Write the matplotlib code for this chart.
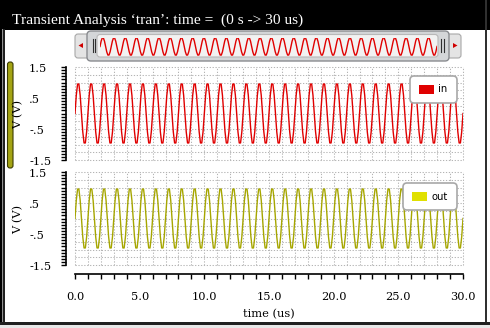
import numpy as np
import matplotlib
matplotlib.use('Agg')
import matplotlib.pyplot as plt
from matplotlib.patches import Rectangle, FancyBboxPatch, Polygon
from matplotlib.transforms import blended_transform_factory

W, H = 490, 328
PX = 72 / 100  # points per pixel

# ---------------- data ----------------
title = "Transient Analysis \u2018tran\u2019: time =  (0 s -> 30 us)"
time_us = np.linspace(0, 30, 301)
in_v = [
    0.0, 0.59, 0.95, 0.95, 0.59, 0.0, -0.59, -0.95, -0.95, -0.59,
    0.0, 0.59, 0.95, 0.95, 0.59, 0.0, -0.59, -0.95, -0.95, -0.59,
    0.0, 0.59, 0.95, 0.95, 0.59, 0.0, -0.59, -0.95, -0.95, -0.59,
    0.0, 0.59, 0.95, 0.95, 0.59, 0.0, -0.59, -0.95, -0.95, -0.59,
    0.0, 0.59, 0.95, 0.95, 0.59, 0.0, -0.59, -0.95, -0.95, -0.59,
    0.0, 0.59, 0.95, 0.95, 0.59, 0.0, -0.59, -0.95, -0.95, -0.59,
    0.0, 0.59, 0.95, 0.95, 0.59, 0.0, -0.59, -0.95, -0.95, -0.59,
    0.0, 0.59, 0.95, 0.95, 0.59, 0.0, -0.59, -0.95, -0.95, -0.59,
    0.0, 0.59, 0.95, 0.95, 0.59, 0.0, -0.59, -0.95, -0.95, -0.59,
    0.0, 0.59, 0.95, 0.95, 0.59, 0.0, -0.59, -0.95, -0.95, -0.59,
    0.0, 0.59, 0.95, 0.95, 0.59, 0.0, -0.59, -0.95, -0.95, -0.59,
    0.0, 0.59, 0.95, 0.95, 0.59, 0.0, -0.59, -0.95, -0.95, -0.59,
    0.0, 0.59, 0.95, 0.95, 0.59, 0.0, -0.59, -0.95, -0.95, -0.59,
    0.0, 0.59, 0.95, 0.95, 0.59, 0.0, -0.59, -0.95, -0.95, -0.59,
    0.0, 0.59, 0.95, 0.95, 0.59, 0.0, -0.59, -0.95, -0.95, -0.59,
    0.0, 0.59, 0.95, 0.95, 0.59, 0.0, -0.59, -0.95, -0.95, -0.59,
    0.0, 0.59, 0.95, 0.95, 0.59, 0.0, -0.59, -0.95, -0.95, -0.59,
    0.0, 0.59, 0.95, 0.95, 0.59, 0.0, -0.59, -0.95, -0.95, -0.59,
    0.0, 0.59, 0.95, 0.95, 0.59, 0.0, -0.59, -0.95, -0.95, -0.59,
    0.0, 0.59, 0.95, 0.95, 0.59, 0.0, -0.59, -0.95, -0.95, -0.59,
    0.0, 0.59, 0.95, 0.95, 0.59, 0.0, -0.59, -0.95, -0.95, -0.59,
    0.0, 0.59, 0.95, 0.95, 0.59, 0.0, -0.59, -0.95, -0.95, -0.59,
    0.0, 0.59, 0.95, 0.95, 0.59, 0.0, -0.59, -0.95, -0.95, -0.59,
    0.0, 0.59, 0.95, 0.95, 0.59, 0.0, -0.59, -0.95, -0.95, -0.59,
    0.0, 0.59, 0.95, 0.95, 0.59, 0.0, -0.59, -0.95, -0.95, -0.59,
    0.0, 0.59, 0.95, 0.95, 0.59, 0.0, -0.59, -0.95, -0.95, -0.59,
    0.0, 0.59, 0.95, 0.95, 0.59, 0.0, -0.59, -0.95, -0.95, -0.59,
    0.0, 0.59, 0.95, 0.95, 0.59, 0.0, -0.59, -0.95, -0.95, -0.59,
    0.0, 0.59, 0.95, 0.95, 0.59, 0.0, -0.59, -0.95, -0.95, -0.59,
    0.0, 0.59, 0.95, 0.95, 0.59, 0.0, -0.59, -0.95, -0.95, -0.59,
    0.0,
]
out_v = [
    0.0, 0.59, 0.95, 0.95, 0.59, 0.0, -0.59, -0.95, -0.95, -0.59,
    0.0, 0.59, 0.95, 0.95, 0.59, 0.0, -0.59, -0.95, -0.95, -0.59,
    0.0, 0.59, 0.95, 0.95, 0.59, 0.0, -0.59, -0.95, -0.95, -0.59,
    0.0, 0.59, 0.95, 0.95, 0.59, 0.0, -0.59, -0.95, -0.95, -0.59,
    0.0, 0.59, 0.95, 0.95, 0.59, 0.0, -0.59, -0.95, -0.95, -0.59,
    0.0, 0.59, 0.95, 0.95, 0.59, 0.0, -0.59, -0.95, -0.95, -0.59,
    0.0, 0.59, 0.95, 0.95, 0.59, 0.0, -0.59, -0.95, -0.95, -0.59,
    0.0, 0.59, 0.95, 0.95, 0.59, 0.0, -0.59, -0.95, -0.95, -0.59,
    0.0, 0.59, 0.95, 0.95, 0.59, 0.0, -0.59, -0.95, -0.95, -0.59,
    0.0, 0.59, 0.95, 0.95, 0.59, 0.0, -0.59, -0.95, -0.95, -0.59,
    0.0, 0.59, 0.95, 0.95, 0.59, 0.0, -0.59, -0.95, -0.95, -0.59,
    0.0, 0.59, 0.95, 0.95, 0.59, 0.0, -0.59, -0.95, -0.95, -0.59,
    0.0, 0.59, 0.95, 0.95, 0.59, 0.0, -0.59, -0.95, -0.95, -0.59,
    0.0, 0.59, 0.95, 0.95, 0.59, 0.0, -0.59, -0.95, -0.95, -0.59,
    0.0, 0.59, 0.95, 0.95, 0.59, 0.0, -0.59, -0.95, -0.95, -0.59,
    0.0, 0.59, 0.95, 0.95, 0.59, 0.0, -0.59, -0.95, -0.95, -0.59,
    0.0, 0.59, 0.95, 0.95, 0.59, 0.0, -0.59, -0.95, -0.95, -0.59,
    0.0, 0.59, 0.95, 0.95, 0.59, 0.0, -0.59, -0.95, -0.95, -0.59,
    0.0, 0.59, 0.95, 0.95, 0.59, 0.0, -0.59, -0.95, -0.95, -0.59,
    0.0, 0.59, 0.95, 0.95, 0.59, 0.0, -0.59, -0.95, -0.95, -0.59,
    0.0, 0.59, 0.95, 0.95, 0.59, 0.0, -0.59, -0.95, -0.95, -0.59,
    0.0, 0.59, 0.95, 0.95, 0.59, 0.0, -0.59, -0.95, -0.95, -0.59,
    0.0, 0.59, 0.95, 0.95, 0.59, 0.0, -0.59, -0.95, -0.95, -0.59,
    0.0, 0.59, 0.95, 0.95, 0.59, 0.0, -0.59, -0.95, -0.95, -0.59,
    0.0, 0.59, 0.95, 0.95, 0.59, 0.0, -0.59, -0.95, -0.95, -0.59,
    0.0, 0.59, 0.95, 0.95, 0.59, 0.0, -0.59, -0.95, -0.95, -0.59,
    0.0, 0.59, 0.95, 0.95, 0.59, 0.0, -0.59, -0.95, -0.95, -0.59,
    0.0, 0.59, 0.95, 0.95, 0.59, 0.0, -0.59, -0.95, -0.95, -0.59,
    0.0, 0.59, 0.95, 0.95, 0.59, 0.0, -0.59, -0.95, -0.95, -0.59,
    0.0, 0.59, 0.95, 0.95, 0.59, 0.0, -0.59, -0.95, -0.95, -0.59,
    0.0,
]
series_names = ["in", "out"]
line_colors = ["#e00000", "#a6a600"]
patch_colors = ["#e00000", "#e0e000"]
y_ticks = [1.5, 0.5, -0.5, -1.5]
y_tick_labels = ["1.5", ".5", "-.5", "-1.5"]
x_ticks = [0, 5, 10, 15, 20, 25, 30]
x_tick_labels = ["0.0", "5.0", "10.0", "15.0", "20.0", "25.0", "30.0"]
x_label = "time (us)"
y_label = "V (V)"

SERIF = "DejaVu Serif"
TSERIF = "Liberation Serif"
GRID = "#b4b4b4"
FS = 8.2

fig = plt.figure(figsize=(W / 100, H / 100), dpi=100)
fig.patch.set_facecolor("white")


def rect(x0, y0, x1, y1):
    return [x0 / W, 1 - y1 / H, (x1 - x0) / W, (y1 - y0) / H]


# background / chrome layer
bg = fig.add_axes([0, 0, 1, 1], zorder=0)
bg.set_xlim(0, W)
bg.set_ylim(H, 0)
bg.axis("off")

# title bar
bg.add_patch(Rectangle((0, 0), W, 29.5, fc="black", ec="none"))
# window borders
bg.add_patch(Rectangle((0, 0), 2.2, H, fc="black", ec="none"))
bg.add_patch(Rectangle((2.2, 29), 1.2, H, fc="#909090", ec="none"))
bg.add_patch(Rectangle((3.4, 29), 1.4, H, fc="#202020", ec="none"))
bg.add_patch(Rectangle((484.5, 0), 2.0, H, fc="#303030", ec="none"))
bg.add_patch(Rectangle((0, 321.5), W, 3.5, fc="#202020", ec="none"))
bg.add_patch(Rectangle((0, 325), W, 3, fc="#e8e8e8", ec="none"))

t = bg.text(12, 24.3, title, color="white", fontfamily=TSERIF, fontsize=10,
            ha="left", va="baseline")
fig.canvas.draw()
bb = t.get_window_extent()
t.set_fontsize(10 * 290 / bb.width)

# scrollbar
bg.add_patch(FancyBboxPatch((75, 34), 386, 24, boxstyle="round,pad=0,rounding_size=3",
                            fc="#e4e4e4", ec="#a8a8a8", lw=0.8))
bg.add_patch(Polygon([[78.5, 45.5], [83, 43], [83, 48]], closed=True, fc="#d00000", ec="none"))
bg.add_patch(Polygon([[457.5, 45.5], [453, 43], [453, 48]], closed=True, fc="#d00000", ec="none"))
bg.add_patch(FancyBboxPatch((87, 31), 362, 30, boxstyle="round,pad=0,rounding_size=4",
                            fc="#d4d6d8", ec="#8a8c90", lw=1.0))
bg.add_patch(FancyBboxPatch((97, 34.5), 341, 22.5, boxstyle="round,pad=0,rounding_size=3",
                            fc="#f2f2f2", ec="#b8b8b8", lw=0.8))
for gx in (92.5, 95, 441, 443.5):
    bg.plot([gx, gx], [39, 52], color="#303030", lw=0.8)

# olive selection bar
bg.add_patch(FancyBboxPatch((7.5, 62), 5.5, 106, boxstyle="round,pad=0,rounding_size=2.5",
                            fc="#a4a414", ec="#3c3c00", lw=0.8))

# scrollbar thumbnail of the signal
axs = fig.add_axes(rect(100, 37.5, 437, 55.5), zorder=1)
axs.set_xlim(0, 30)
axs.set_ylim(-1.0, 1.0)
axs.axis("off")
axs.plot(time_us, in_v, color="#e00000", lw=1.0)

panel_boxes = [(75, 67, 463, 160), (75, 172, 463, 265)]
series_vals = [in_v, out_v]
for i in range(2):
    x0, y0, x1, y1 = panel_boxes[i]
    ax = fig.add_axes(rect(x0, y0, x1, y1), zorder=1)
    ax.patch.set_alpha(0)
    ax.set_xlim(0, 30)
    ax.set_ylim(-1.5, 1.5)
    for xv in range(0, 31):
        ax.axvline(xv, color=GRID, lw=0.75, ls=(0, (1.2, 1.6)), zorder=0, clip_on=False)
    for yv in np.arange(-1.5, 1.51, 0.25):
        ax.axhline(yv, color=GRID, lw=0.75, ls=(0, (1.2, 1.6)), zorder=0, clip_on=False)
    ax.plot(time_us, series_vals[i], color=line_colors[i], lw=1.0, zorder=2)

    for s in ("top", "right"):
        ax.spines[s].set_visible(False)
    ax.spines["left"].set_position(("outward", 9 * PX))
    ax.spines["left"].set_linewidth(1.2)
    ax.set_yticks(y_ticks)
    ax.set_yticks(np.arange(-1.5, 1.51, 0.1), minor=True)
    ax.tick_params(axis="y", which="both", direction="out", length=5 * PX, width=1.0,
                   labelleft=False)
    tr = blended_transform_factory(fig.transFigure, ax.transData)
    for v, lab in zip(y_ticks, y_tick_labels):
        ax.annotate(lab, xy=(29 / W, v), xycoords=tr, xytext=(0, -2 * PX),
                    textcoords="offset points", ha="left", va="center",
                    fontfamily=SERIF, fontsize=FS)
    fig.text(18 / W, 1 - ((y0 + y1) / 2 + 1) / H, y_label, rotation=90, ha="center",
             va="center", fontfamily=SERIF, fontsize=FS, zorder=5)

    if i == 0:
        ax.spines["bottom"].set_visible(False)
        ax.set_xticks([])
    else:
        ax.spines["bottom"].set_position(("outward", 9 * PX))
        ax.spines["bottom"].set_linewidth(1.2)
        ax.set_xticks(x_ticks)
        ax.set_xticklabels(x_tick_labels, fontfamily=SERIF, fontsize=FS)
        ax.set_xticks(np.arange(0, 31, 1), minor=True)
        ax.tick_params(axis="x", which="both", direction="out", length=5 * PX, width=1.0,
                       pad=9)
        ax.set_xlabel(x_label, fontfamily=SERIF, fontsize=FS, labelpad=5)

# legends on top
fg = fig.add_axes([0, 0, 1, 1], zorder=3)
fg.set_xlim(0, W)
fg.set_ylim(H, 0)
fg.axis("off")
fg.patch.set_alpha(0)
leg_boxes = [(410, 76, 457, 103), (403, 183, 457, 210)]
for i in range(2):
    bx0, by0, bx1, by1 = leg_boxes[i]
    fg.add_patch(FancyBboxPatch((bx0, by0), bx1 - bx0, by1 - by0,
                                boxstyle="round,pad=0,rounding_size=4",
                                fc="white", ec="#a8a8a8", lw=1.2))
    fg.add_patch(Rectangle((bx0 + 9, (by0 + by1) / 2 - 5), 15, 9.5,
                           fc=patch_colors[i], ec="none"))
    fg.text(bx0 + 28, (by0 + by1) / 2, series_names[i], ha="left", va="center",
            fontfamily="DejaVu Sans", fontsize=7.2)

fig.savefig("out.png", dpi=100)
